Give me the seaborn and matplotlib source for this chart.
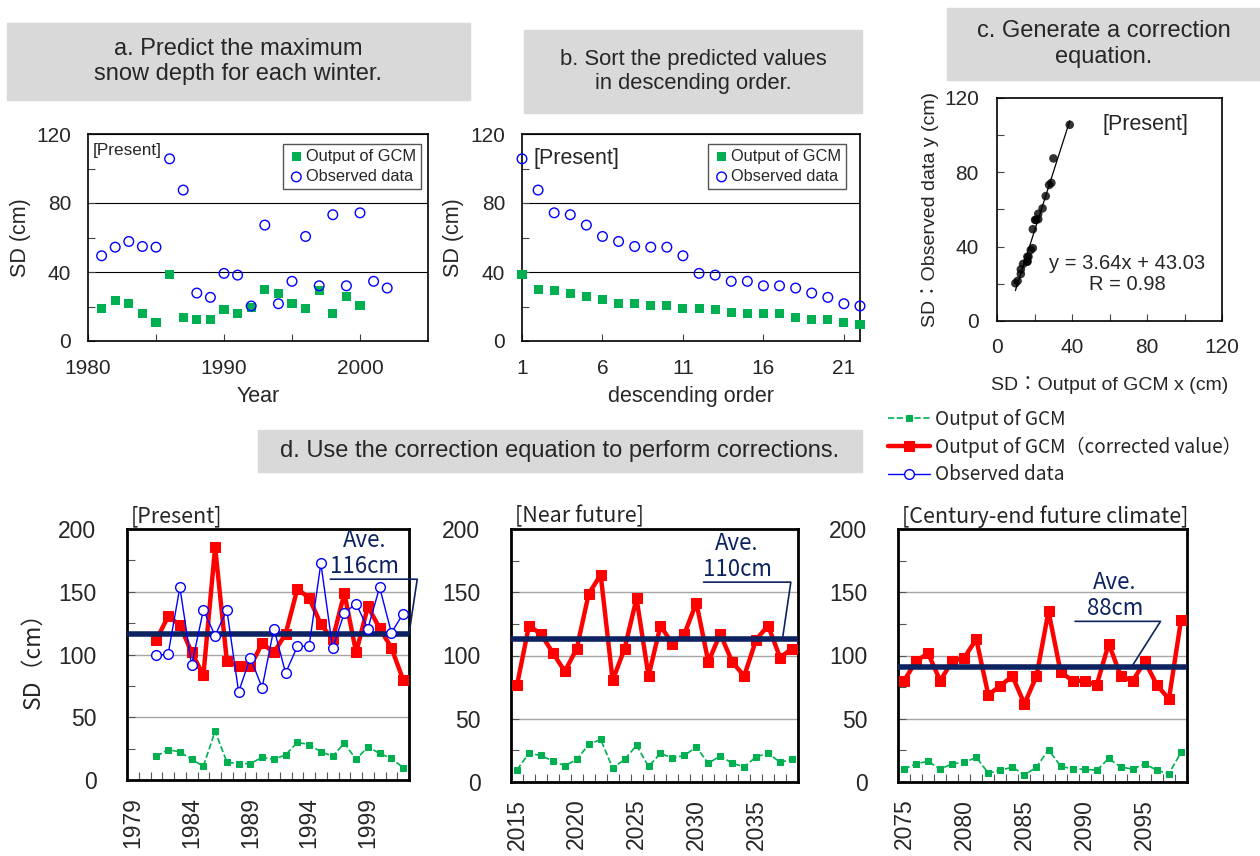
import matplotlib
matplotlib.use('Agg')
import matplotlib.pyplot as plt
import seaborn as sns
import numpy as np
from matplotlib.patches import Rectangle

# ---- panel a / b data (present climate, one station) ----
years_a = list(range(1981, 2003))
gcm_years_a = list(range(1981, 2001))
gcm_a = [19.1, 23.7, 22.0, 16.2, 11.0, 38.8, 13.7, 12.5, 12.7, 18.0,
         16.2, 19.7, 29.9, 27.8, 21.8, 18.9, 29.0, 16.2, 26.0, 20.8]
obs_a = [49.4, 54.4, 57.7, 54.8, 54.4, 105.6, 87.5, 27.8, 25.3, 39.2, 38.2,
         20.3, 67.2, 21.6, 34.6, 60.6, 32.0, 73.2, 32.0, 74.3, 34.6, 30.7]

rank_b = list(range(1, 23))
gcm_sorted = [38.8, 30.1, 29.0, 27.8, 26.0, 24.3, 22.0, 22.0, 20.8, 20.3, 19.1,
              19.1, 18.0, 16.8, 16.2, 16.2, 16.2, 13.9, 12.7, 12.7, 11.0, 9.8]
obs_sorted = [105.6, 87.5, 74.3, 73.2, 67.2, 60.6, 57.7, 54.8, 54.4, 54.4, 49.4,
              39.2, 38.2, 34.6, 34.6, 32.0, 32.0, 30.7, 27.8, 25.3, 21.6, 20.3]

# ---- panel d data ----
years_p = list(range(1981, 2003))
gcm_p = [19.0, 24.1, 22.5, 16.4, 11.0, 38.9, 14.2, 13.1, 13.1, 18.0, 16.4,
         20.1, 30.0, 28.2, 22.5, 19.0, 29.2, 16.4, 26.3, 21.2, 17.2, 9.9]
corr_p = [111.8, 130.3, 123.6, 101.6, 83.4, 185.5, 94.6, 90.6, 90.6, 108.8, 101.6,
          116.4, 152.3, 145.0, 124.1, 112.0, 148.8, 101.6, 138.3, 120.9, 105.4, 79.9]
obs_p = [99.5, 100.3, 153.6, 91.4, 135.4, 115.0, 135.4, 70.2, 97.6, 73.5, 120.6,
         85.3, 106.4, 106.7, 172.7, 105.1, 133.2, 140.5, 120.6, 153.6, 117.4, 132.4]

years_n = list(range(2015, 2039))
gcm_n = [9.7, 22.6, 21.0, 16.5, 12.9, 17.8, 29.7, 33.6, 11.0, 17.8, 28.9, 12.3,
         22.6, 18.9, 21.0, 27.6, 14.7, 20.7, 14.7, 12.1, 19.9, 22.6, 15.7, 17.8]
corr_n = [76.4, 123.6, 117.0, 102.1, 87.4, 105.5, 148.8, 163.8, 80.3, 105.5, 145.1, 83.7,
          123.6, 109.2, 117.0, 141.7, 95.0, 117.0, 95.0, 83.7, 112.6, 123.6, 98.4, 105.5]

years_c = list(range(2075, 2099))
gcm_c = [10.2, 14.4, 16.3, 10.2, 14.4, 15.5, 19.4, 7.1, 9.2, 11.8, 5.5, 11.8,
         25.5, 12.6, 10.2, 10.2, 9.2, 18.6, 11.8, 10.2, 14.4, 9.2, 6.6, 23.4]
corr_c = [80.0, 95.5, 101.8, 80.0, 95.5, 98.2, 112.9, 68.8, 76.1, 83.7, 61.7, 83.7,
          134.9, 87.1, 80.0, 80.0, 76.6, 109.4, 83.7, 80.0, 95.5, 76.6, 65.6, 127.8]

ave_lines = [116.4, 113.0, 91.0]
ave_labels = ['116cm', '110cm', '88cm']

GREEN = '#00b050'
RED = '#ff0000'
BLUE = '#0000ff'
NAVY = '#0d2260'
JP = ['Noto Sans CJK JP', 'DejaVu Sans']

sns.set_theme(style='white')
plt.rcParams['font.family'] = ['Liberation Sans', 'Noto Sans CJK JP', 'DejaVu Sans']
plt.rcParams['axes.edgecolor'] = 'black'
plt.rcParams['axes.linewidth'] = 1.2

W, H = 1260, 856
fig = plt.figure(figsize=(W / 100, H / 100), dpi=100)


def ax_px(l, t, r, b):
    return fig.add_axes([l / W, 1 - b / H, (r - l) / W, (b - t) / H])


def title_box(x0, y0, x1, y1, text, size):
    fig.add_artist(Rectangle((x0 / W, 1 - y1 / H), (x1 - x0) / W, (y1 - y0) / H,
                             transform=fig.transFigure, color='#d9d9d9', zorder=0))
    fig.text((x0 + x1) / 2 / W, 1 - (y0 + y1) / 2 / H, text, ha='center', va='center',
             fontsize=size, linespacing=1.2)


title_box(7, 23, 470, 100, 'a. Predict the maximum\nsnow depth for each winter.', 17)
title_box(524, 30, 862, 113, 'b. Sort the predicted values\nin descending order.', 15.8)
title_box(947, 8, 1260, 80, 'c. Generate a correction\nequation.', 17)
title_box(258, 430, 862, 472, 'd. Use the correction equation to perform corrections.', 17)


def style_top(ax):
    ax.set_ylim(0, 120)
    ax.set_yticks([0, 40, 80, 120])
    ax.set_yticks([20, 60, 100], minor=True)
    ax.grid(True, axis='y', color='black', lw=0.8)
    ax.tick_params(which='both', direction='in', length=5, width=0.8, labelsize=15,
                   left=True, bottom=True, color='#444444')
    ax.tick_params(axis='y', pad=12)
    ax.tick_params(axis='x', pad=13)
    for s in ax.spines.values():
        s.set_visible(True)
        s.set_linewidth(1.2)


# ---- a ----
ax_a = ax_px(88, 134, 428, 341)
sns.scatterplot(x=gcm_years_a, y=gcm_a, marker='s', s=42, color=GREEN, edgecolor='none',
                label='Output of GCM', legend=False, ax=ax_a, zorder=3)
sns.scatterplot(x=years_a, y=obs_a, marker='o', s=48, facecolor='none', edgecolor=BLUE,
                linewidth=1, label='Observed data', legend=False, ax=ax_a, zorder=4)
style_top(ax_a)
ax_a.set_xlim(1980, 2005)
ax_a.set_xticks([1980, 1990, 2000])
ax_a.set_xticks([1985, 1995], minor=True)
ax_a.set_xlabel('Year', fontsize=15.5, labelpad=6)
ax_a.set_ylabel('SD (cm)', fontsize=15.5, labelpad=4)
ax_a.text(0.015, 0.955, '[Present]', transform=ax_a.transAxes, fontsize=12.3, va='top')
ax_a.legend(loc='upper right', bbox_to_anchor=(0.98, 0.95), fontsize=11.8, frameon=True,
            fancybox=False, edgecolor='#555555', framealpha=1, handletextpad=0.1,
            borderpad=0.3, labelspacing=0.3, handlelength=1.0, borderaxespad=0)

# ---- b ----
ax_b = ax_px(522, 134, 860, 341)
sns.scatterplot(x=rank_b, y=gcm_sorted, marker='s', s=42, color=GREEN, edgecolor='none',
                label='Output of GCM', legend=False, ax=ax_b, zorder=3, clip_on=False)
sns.scatterplot(x=rank_b, y=obs_sorted, marker='o', s=48, facecolor='none', edgecolor=BLUE,
                linewidth=1, label='Observed data', legend=False, ax=ax_b, zorder=4,
                clip_on=False)
style_top(ax_b)
ax_b.set_xlim(1, 22)
ax_b.set_xticks([1, 6, 11, 16, 21])
ax_b.set_xlabel('descending order', fontsize=15.5, labelpad=6)
ax_b.set_ylabel('SD (cm)', fontsize=15.5, labelpad=5)
ax_b.text(0.035, 0.93, '[Present]', transform=ax_b.transAxes, fontsize=15.5, va='top')
ax_b.legend(loc='upper right', bbox_to_anchor=(0.96, 0.95), fontsize=11.8, frameon=True,
            fancybox=False, edgecolor='#555555', framealpha=1, handletextpad=0.1,
            borderpad=0.3, labelspacing=0.3, handlelength=1.0, borderaxespad=0)

# ---- c ----
ax_c = ax_px(997, 98, 1222, 321)
sns.regplot(x=gcm_sorted, y=obs_sorted, ci=None, color='black', ax=ax_c,
            scatter_kws={'s': 38, 'edgecolor': 'none'}, line_kws={'lw': 0.9})
ax_c.set_xlim(0, 120)
ax_c.set_ylim(0, 120)
ax_c.set_xticks([0, 40, 80, 120])
ax_c.set_xticks([20, 60, 100], minor=True)
ax_c.set_yticks([0, 40, 80, 120])
ax_c.set_yticks([20, 60, 100], minor=True)
ax_c.tick_params(which='both', direction='in', length=5, width=0.8, labelsize=15,
                 left=True, bottom=True, color='#444444')
ax_c.tick_params(axis='y', pad=13)
ax_c.tick_params(axis='x', pad=12)
for s in ax_c.spines.values():
    s.set_visible(True)
ax_c.set_xlabel('SD：Output of GCM x (cm)', fontsize=14, labelpad=14)
ax_c.set_ylabel('SD：Observed data y (cm)', fontsize=14, labelpad=4)
ax_c.text(0.47, 0.93, '[Present]', transform=ax_c.transAxes, fontsize=15.5, va='top')
ax_c.text(0.58, 0.21, 'y = 3.64x + 43.03\nR = 0.98', transform=ax_c.transAxes,
          fontsize=14.5, ha='center', va='center', linespacing=1.1)


# ---- d ----
def style_bottom(ax, start, end, first_tick):
    ax.set_ylim(0, 200)
    ax.set_xlim(start - 0.5, end + 0.5)
    ax.set_yticks([0, 50, 100, 150, 200])
    ax.set_yticks([25, 75, 125, 175], minor=True)
    ax.set_xticks(list(range(first_tick, end + 1, 5)))
    ax.set_xticks(list(np.arange(start + 0.5, end + 0.5, 1.0)), minor=True)
    ax.grid(True, axis='y', which='major', color='#a6a6a6', lw=1)
    ax.tick_params(which='both', direction='in', width=0.8, color='#555555', labelsize=16.5)
    ax.tick_params(axis='y', which='both', length=6, pad=22, left=True)
    ax.tick_params(axis='x', which='major', length=0, pad=12, labelrotation=90)
    ax.tick_params(axis='x', which='minor', length=6, bottom=True)
    for s in ax.spines.values():
        s.set_visible(True)
        s.set_linewidth(2)
        s.set_color('black')
    ax.set_xlabel('')


def ave_note(ax, value, label, tx, ty, hx0, hx1, hy, ex):
    ax.axhline(value, color=NAVY, lw=4, zorder=4)
    ax.text(tx, ty, 'Ave.', ha='center', va='center', fontsize=16, color=NAVY,
            family=JP)
    ax.text(tx, ty - 20.5, label, ha='center', va='center', fontsize=16, color=NAVY,
            family=JP)
    ax.plot([hx0, hx1, ex], [hy, hy, value], color=NAVY, lw=1.2, clip_on=False, zorder=5)


panels = [
    (ax_px(127, 529, 409, 780), 1978.5, years_p, gcm_p, corr_p, obs_p, 1979, '[Present]'),
    (ax_px(511, 529, 798, 782), 2014.5, years_n, gcm_n, corr_n, None, 2015, '[Near future]'),
    (ax_px(898, 529, 1187, 782), 2074.5, years_c, gcm_c, corr_c, None, 2075,
     '[Century-end future climate]'),
]
ave_geom = [
    (1998.7, 190.5, 1995.8, 2003.2, 160, 2002.5),
    (2033.4, 188.5, 2030.6, 2037.9, 158, 2037.2),
    (2092.5, 158.0, 2089.2, 2096.3, 127, 2093.9),
]

for i, (ax, x_lo, yrs, g, c, o, t0, name) in enumerate(panels):
    sns.lineplot(x=yrs, y=g, color=GREEN, lw=1.2, ls='--', marker='s', ms=5,
                 mec=GREEN, mfc=GREEN, label='Output of GCM', legend=False, ax=ax, zorder=2)
    sns.lineplot(x=yrs, y=c, color=RED, lw=3.2, marker='s', ms=7.5, mec=RED, mfc=RED,
                 label='Output of GCM（corrected value）', legend=False, ax=ax, zorder=3)
    if o is not None:
        sns.lineplot(x=yrs, y=o, color=BLUE, lw=1, marker='o', ms=7, mec=BLUE, mfc='white',
                     mew=1, label='Observed data', legend=False, ax=ax, zorder=6)
    style_bottom(ax, x_lo + 0.5, yrs[-1], t0)
    ax.text(0.015, 1.005, name, transform=ax.transAxes, fontsize=15.5, va='bottom',
            family=JP)
    tx, ty, hx0, hx1, hy, ex = ave_geom[i]
    ave_note(ax, ave_lines[i], ave_labels[i], tx, ty, hx0, hx1, hy, ex)

panels[0][0].set_ylabel('SD（cm）', fontsize=16.5, family=JP, labelpad=10)
for ax, *_ in panels[1:]:
    ax.set_ylabel('')

handles, labels = panels[0][0].get_legend_handles_labels()
fig.legend(handles[:3], labels[:3], loc='upper left', bbox_to_anchor=(888 / W, 1 - 409 / H),
           frameon=False, handlelength=2.2, handletextpad=0.25,
           labelspacing=0.34, borderpad=0, borderaxespad=0, prop={'family': JP, 'size': 13.7})

fig.savefig('out.png', dpi=100)
